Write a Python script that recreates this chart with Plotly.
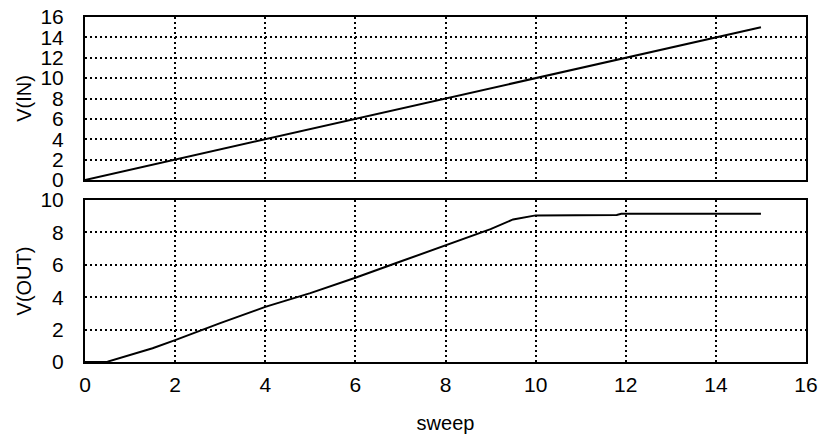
import plotly.graph_objects as go
from plotly.subplots import make_subplots

# sweep values and the two node voltages
sweep_in = [0, 15]
v_in = [0, 15]

sweep_out = [0, 0.5, 1.5, 2, 3, 4, 5, 6, 7, 8, 9, 9.5, 10, 11.8, 11.9, 15]
v_out = [0, 0.02, 0.85, 1.35, 2.4, 3.4, 4.25, 5.2, 6.2, 7.2, 8.2, 8.8, 9.05, 9.08, 9.15, 9.15]

x_ticks = [0, 2, 4, 6, 8, 10, 12, 14, 16]
y_in_ticks = [0, 2, 4, 6, 8, 10, 12, 14, 16]
y_out_ticks = [0, 2, 4, 6, 8, 10]

FONT = "Liberation Sans, Arial"

fig = make_subplots(rows=2, cols=1, shared_xaxes=False, vertical_spacing=0.058)

fig.add_trace(
    go.Scatter(x=sweep_in, y=v_in, mode="lines", line=dict(color="black", width=2)),
    row=1, col=1,
)
fig.add_trace(
    go.Scatter(x=sweep_out, y=v_out, mode="lines", line=dict(color="black", width=2)),
    row=2, col=1,
)

axis_style = dict(
    showline=True, mirror=True, linecolor="black", linewidth=2,
    showgrid=True, gridcolor="black", gridwidth=1.5, griddash="2px,3px",
    zeroline=False, ticks="", automargin=False,
    tickfont=dict(family=FONT, size=21, color="black"),
)
title_font = dict(family=FONT, size=20, color="black")

fig.update_xaxes(range=[0, 16], tickvals=x_ticks, ticklabelstandoff=3, **axis_style)
fig.update_xaxes(showticklabels=False, row=1, col=1)
fig.update_xaxes(
    title=dict(text="sweep", font=title_font, standoff=21),
    row=2, col=1,
)
fig.update_yaxes(ticklabelstandoff=15, **axis_style)
fig.update_yaxes(
    range=[0, 16], tickvals=y_in_ticks,
    title=dict(text="V(IN)", font=title_font, standoff=3),
    row=1, col=1,
)
fig.update_yaxes(
    range=[0, 10], tickvals=y_out_ticks,
    title=dict(text="V(OUT)", font=title_font, standoff=3),
    row=2, col=1,
)

fig.update_layout(
    showlegend=False,
    width=820,
    height=435,
    margin=dict(l=85, r=14, t=17, b=73),
    plot_bgcolor="white",
    paper_bgcolor="white",
)
fig.layout.yaxis.domain = [0.5275, 1]
fig.layout.yaxis2.domain = [0, 0.4696]

# drop the default page margin so the figure fills the window
fig.write_html(
    "out.html",
    config={"displayModeBar": False},
    post_script="document.body.style.margin = '0';",
)
